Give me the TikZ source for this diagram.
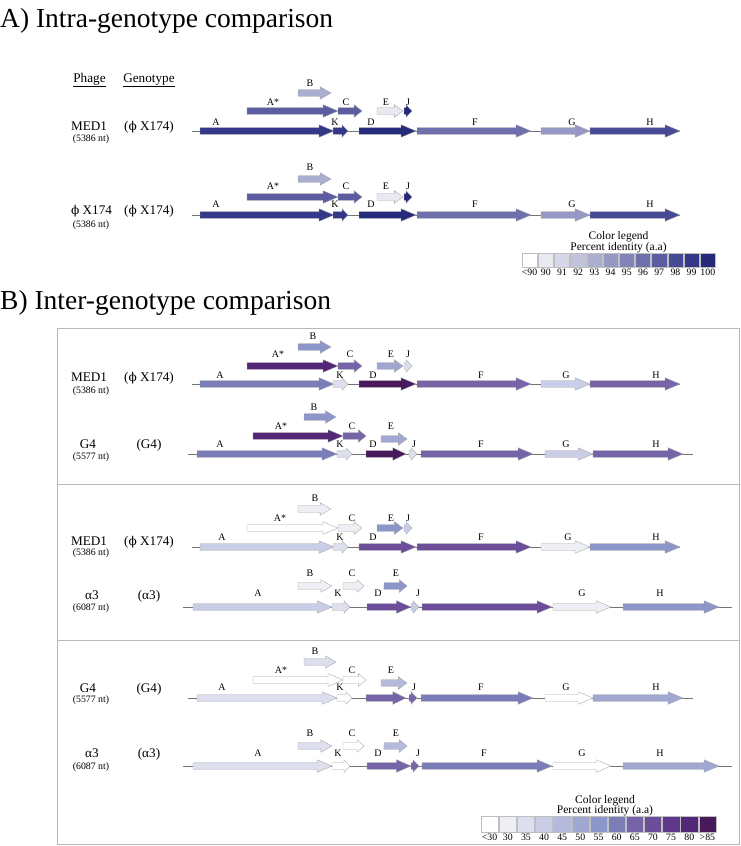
\documentclass[tikz,border=0pt]{standalone}
\usepackage{fontspec}
\setmainfont{Liberation Serif}
\newfontfamily\phifont{DejaVu Serif}
\newcommand\myphi{{\phifont\scalebox{0.92}{ϕ}}}
% intra-genotype palette
\definecolor{i90}{HTML}{E9E9F2}
\definecolor{i91}{HTML}{D6D7E8}
\definecolor{i92}{HTML}{C1C2DC}
\definecolor{i93}{HTML}{ACAED0}
\definecolor{i94}{HTML}{9799C4}
\definecolor{i95}{HTML}{8385B8}
\definecolor{i96}{HTML}{6E70AC}
\definecolor{i97}{HTML}{5B5DA0}
\definecolor{i98}{HTML}{474A94}
\definecolor{i99}{HTML}{353888}
\definecolor{i100}{HTML}{262A7A}
% inter-genotype palette
\definecolor{b30}{HTML}{EEEEF5}
\definecolor{b35}{HTML}{DDDFEE}
\definecolor{b40}{HTML}{C9CDE5}
\definecolor{b45}{HTML}{B4BADB}
\definecolor{b50}{HTML}{A0A8D2}
\definecolor{b55}{HTML}{8C96C8}
\definecolor{b60}{HTML}{7A7DB8}
\definecolor{b65}{HTML}{7664A8}
\definecolor{b70}{HTML}{6B4D9A}
\definecolor{b75}{HTML}{5F378B}
\definecolor{b80}{HTML}{532677}
\definecolor{b85}{HTML}{481A5C}
\newcommand\genearrow[4]{%
  \pgfmathsetmacro\gLen{#2-(#1)}%
  \pgfmathsetmacro\gHd{min(15,max(6,0.33*\gLen))}%
  \pgfmathsetmacro\gBs{#2-\gHd}%
  \pgfmathsetmacro\gY{#3}%
  \filldraw[genebox,fill=#4] (#1,\gY-3.3) -- (\gBs,\gY-3.3) -- (\gBs,\gY-6.3) -- (#2,\gY) -- (\gBs,\gY+6.3) -- (\gBs,\gY+3.3) -- (#1,\gY+3.3) -- cycle;}
\begin{document}
\begin{tikzpicture}[x=1pt,y=-1pt,
  genebox/.style={draw=black!35,line width=0.35pt},
  backbone/.style={draw=black!55,line width=0.7pt},
  glab/.style={font=\fontsize{10}{11}\selectfont,anchor=base,inner sep=0pt},
  phname/.style={font=\fontsize{13.2}{14}\selectfont,anchor=base,inner sep=0pt},
  phsub/.style={font=\fontsize{9.8}{10}\selectfont,anchor=base,inner sep=0pt},
  ttl/.style={font=\fontsize{27.5}{30}\selectfont,anchor=base west,inner sep=0pt},
  legt/.style={font=\fontsize{11.5}{12}\selectfont,anchor=base,inner sep=0pt},
  legn/.style={font=\fontsize{9.8}{10}\selectfont,anchor=base,inner sep=0pt},
  legbox/.style={draw=black!25,line width=0.4pt},
  framebox/.style={draw=black!28,line width=1pt}]
\useasboundingbox (0,0) rectangle (740,846);

% ---------------- A) intra ----------------
\node[ttl] (tA) at (0,27) {A) Intra-genotype comparison};
\node[phname] (hPh) at (89.5,82) {\underline{Phage}};
\node[phname] (hGe) at (149,82) {\underline{Genotype}};

% row I1
\node[phname] (i1n) at (89,130) {MED1};
\node[phsub] (i1s) at (91,141) {(5386 nt)};
\node[phname] (i1g) at (149,130) {(\myphi\ X174)};
\draw[backbone] (192,131) -- (680,131);
\foreach \a/\b/\y/\c in {200/334/131/i99, 333/348/131/i99, 359/416/131/i100, 417/531/131/i96, 541/590/131/i94, 590/680/131/i98, 247/338/111/i97, 338/362/111/i97, 377/403/111/i90, 404/412/111/i100, 298/331/93/i93}
  {\genearrow{\a}{\b}{\y}{\c}}
\foreach \n/\x/\y/\t in {B/310/86.5/B, As/273/105.5/A*, C/346/105.5/C, E/386/105.5/E, J/408/105.5/J, A/216/125.5/A, K/335/125.5/K, D/371/125.5/D, F/475/125.5/F, G/572/125.5/G, H/650/125.5/H}
  {\node[glab] (i1\n) at (\x,\y) {\t};}

% row I2
\node[phname] (i2n) at (91.5,214) {\myphi\ X174};
\node[phsub] (i2s) at (91,227) {(5386 nt)};
\node[phname] (i2g) at (149,214) {(\myphi\ X174)};
\draw[backbone] (192,215) -- (680,215);
\foreach \a/\b/\y/\c in {200/334/215/i99, 333/348/215/i99, 359/416/215/i100, 417/531/215/i96, 541/590/215/i94, 590/680/215/i98, 247/338/197/i97, 338/362/197/i97, 377/403/197/i90, 404/412/197/i100, 298/331/179/i93}
  {\genearrow{\a}{\b}{\y}{\c}}
\foreach \n/\x/\y/\t in {B/310/170.5/B, As/273/189.5/A*, C/346/189.5/C, E/386/189.5/E, J/408/189.5/J, A/216/207.5/A, K/335/207.5/K, D/371/207.5/D, F/475/207.5/F, G/572/207.5/G, H/650/207.5/H}
  {\node[glab] (i2\n) at (\x,\y) {\t};}

% legend A
\node[legt] (lgA1) at (618.5,239) {Color legend};
\node[legt] (lgA2) at (618.5,250) {Percent identity (a.a)};
\foreach \i/\c/\t in {0/white/<90, 1/i90/90, 2/i91/91, 3/i92/92, 4/i93/93, 5/i94/94, 6/i95/95, 7/i96/96, 8/i97/97, 9/i98/98, 10/i99/99, 11/i100/100}
  {\filldraw[legbox,fill=\c] (522+\i*16.2,253) rectangle ++(15.2,14);
   \node[legn] (lA\i) at (529.6+\i*16.2,275.5) {\t};}

% ---------------- B) inter ----------------
\node[ttl] (tB) at (0,309) {B) Inter-genotype comparison};
\draw[framebox] (57,328) rectangle (739,844);
\draw[framebox] (57,484) -- (739,484);
\draw[framebox] (57,640) -- (739,640);

% panel 1, MED1
\node[phname] (p1an) at (89,381) {MED1};
\node[phsub] (p1as) at (91,393.5) {(5386 nt)};
\node[phname] (p1ag) at (149,381) {(\myphi\ X174)};
\draw[backbone] (192,384) -- (680,384);
\foreach \a/\b/\y/\c in {200/334/384/b60, 333/348/384/b35, 359/416/384/b85, 417/531/384/b65, 541/590/384/b40, 590/680/384/b65, 247/338/366/b80, 338/362/366/b65, 377/403/366/b50, 404/412/366/b35, 298/331/347/b55}
  {\genearrow{\a}{\b}{\y}{\c}}
\foreach \n/\x/\y/\t in {B/313/339.5/B, As/278/357.5/A*, C/350/357.5/C, E/391/357.5/E, J/408/357.5/J, A/220/378.5/A, K/340/378.5/K, D/373/378.5/D, F/481/378.5/F, G/566/378.5/G, H/656/378.5/H}
  {\node[glab] (p1a\n) at (\x,\y) {\t};}

% panel 1, G4
\node[phname] (p1bn) at (88,448) {G4};
\node[phsub] (p1bs) at (91,459) {(5577 nt)};
\node[phname] (p1bg) at (149,448) {(G4)};
\draw[backbone] (188,454) -- (693,454);
\foreach \a/\b/\y/\c in {197/337/454/b60, 337/352/454/b35, 366/406/454/b85, 409/417/454/b35, 421/533/454/b65, 545/593/454/b40, 593/683/454/b65, 253/343/436/b80, 343/366/436/b65, 381/407/439/b50, 304/336/417/b55}
  {\genearrow{\a}{\b}{\y}{\c}}
\foreach \n/\x/\y/\t in {B/314/410.5/B, As/281/429.5/A*, C/352/429.5/C, E/391/429.5/E, A/220/447.5/A, K/340/447.5/K, D/373/447.5/D, J/414/447.5/J, F/481/447.5/F, G/566/447.5/G, H/656/447.5/H}
  {\node[glab] (p1b\n) at (\x,\y) {\t};}

% panel 2, MED1
\node[phname] (p2an) at (89,545) {MED1};
\node[phsub] (p2as) at (91,555.5) {(5386 nt)};
\node[phname] (p2ag) at (149,545) {(\myphi\ X174)};
\draw[backbone] (192,547) -- (680,547);
\foreach \a/\b/\y/\c in {200/334/547/b40, 333/348/547/b35, 359/416/547/b70, 417/531/547/b70, 541/590/547/b30, 590/680/547/b55, 247/338/528/white, 338/362/528/b30, 377/403/528/b55, 404/412/528/b40, 298/331/509/b30}
  {\genearrow{\a}{\b}{\y}{\c}}
\foreach \n/\x/\y/\t in {B/315/501.5/B, As/280/521.5/A*, C/352/521.5/C, E/391/521.5/E, J/408/521.5/J, A/222/540.5/A, K/340/540.5/K, D/373/540.5/D, F/481/540.5/F, G/568/540.5/G, H/656/540.5/H}
  {\node[glab] (p2a\n) at (\x,\y) {\t};}

% panel 2, alpha3
\node[phname] (p2bn) at (92,599) {α3};
\node[phsub] (p2bs) at (91,610) {(6087 nt)};
\node[phname] (p2bg) at (149,599) {(α3)};
\draw[backbone] (183,607) -- (732,607);
\foreach \a/\b/\y/\c in {193/332/607/b40, 332/350/607/b35, 367/411/607/b70, 411/419/607/b40, 422/552/607/b70, 553/611/607/b30, 623/719/607/b55, 298/332/586/b30, 343/364/586/b30, 384/407/586/b55}
  {\genearrow{\a}{\b}{\y}{\c}}
\foreach \n/\x/\y/\t in {B/310/576.5/B, C/352/576.5/C, E/396/576.5/E, A/258/596.5/A, K/338/596.5/K, D/378/596.5/D, J/418/596.5/J, G/582/596.5/G, H/660/596.5/H}
  {\node[glab] (p2b\n) at (\x,\y) {\t};}

% panel 3, G4
\node[phname] (p3an) at (88,692) {G4};
\node[phsub] (p3as) at (91,702) {(5577 nt)};
\node[phname] (p3ag) at (149,692) {(G4)};
\draw[backbone] (188,698) -- (693,698);
\foreach \a/\b/\y/\c in {197/337/698/b35, 337/352/698/white, 366/406/698/b65, 409/417/698/b65, 421/533/698/b60, 545/593/698/white, 593/683/698/b50, 253/343/680/white, 343/366/680/white, 381/407/683/b45, 304/336/662/b35}
  {\genearrow{\a}{\b}{\y}{\c}}
\foreach \n/\x/\y/\t in {B/315/654.5/B, As/281/673.5/A*, C/352/673.5/C, E/391/673.5/E, A/222/690.5/A, K/340/690.5/K, J/414/690.5/J, F/481/690.5/F, G/566/690.5/G, H/656/690.5/H}
  {\node[glab] (p3a\n) at (\x,\y) {\t};}

% panel 3, alpha3
\node[phname] (p3bn) at (92,757) {α3};
\node[phsub] (p3bs) at (91,769) {(6087 nt)};
\node[phname] (p3bg) at (149,757) {(α3)};
\draw[backbone] (183,766) -- (732,766);
\foreach \a/\b/\y/\c in {193/332/766/b35, 332/350/766/white, 367/411/766/b65, 411/419/766/b65, 422/552/766/b60, 553/611/766/white, 623/719/766/b50, 298/332/746/b35, 343/364/746/white, 384/407/746/b45}
  {\genearrow{\a}{\b}{\y}{\c}}
\foreach \n/\x/\y/\t in {B/310/736.5/B, C/352/736.5/C, E/396/736.5/E, A/258/756.5/A, K/338/756.5/K, D/378/756.5/D, J/418/756.5/J, F/484/756.5/F, G/582/756.5/G, H/660/756.5/H}
  {\node[glab] (p3b\n) at (\x,\y) {\t};}

% legend B
\node[legt] (lgB1) at (605,803) {Color legend};
\node[legt] (lgB2) at (605,813) {Percent identity (a.a)};
\foreach \i/\c/\t in {0/white/<30, 1/b30/30, 2/b35/35, 3/b40/40, 4/b45/45, 5/b50/50, 6/b55/55, 7/b60/60, 8/b65/65, 9/b70/70, 10/b75/75, 11/b80/80, 12/b85/>85}
  {\filldraw[legbox,fill=\c] (481+\i*18.15,816) rectangle ++(17.2,16);
   \node[legn] (lB\i) at (489.6+\i*18.15,840.5) {\t};}
\end{tikzpicture}
\end{document}
